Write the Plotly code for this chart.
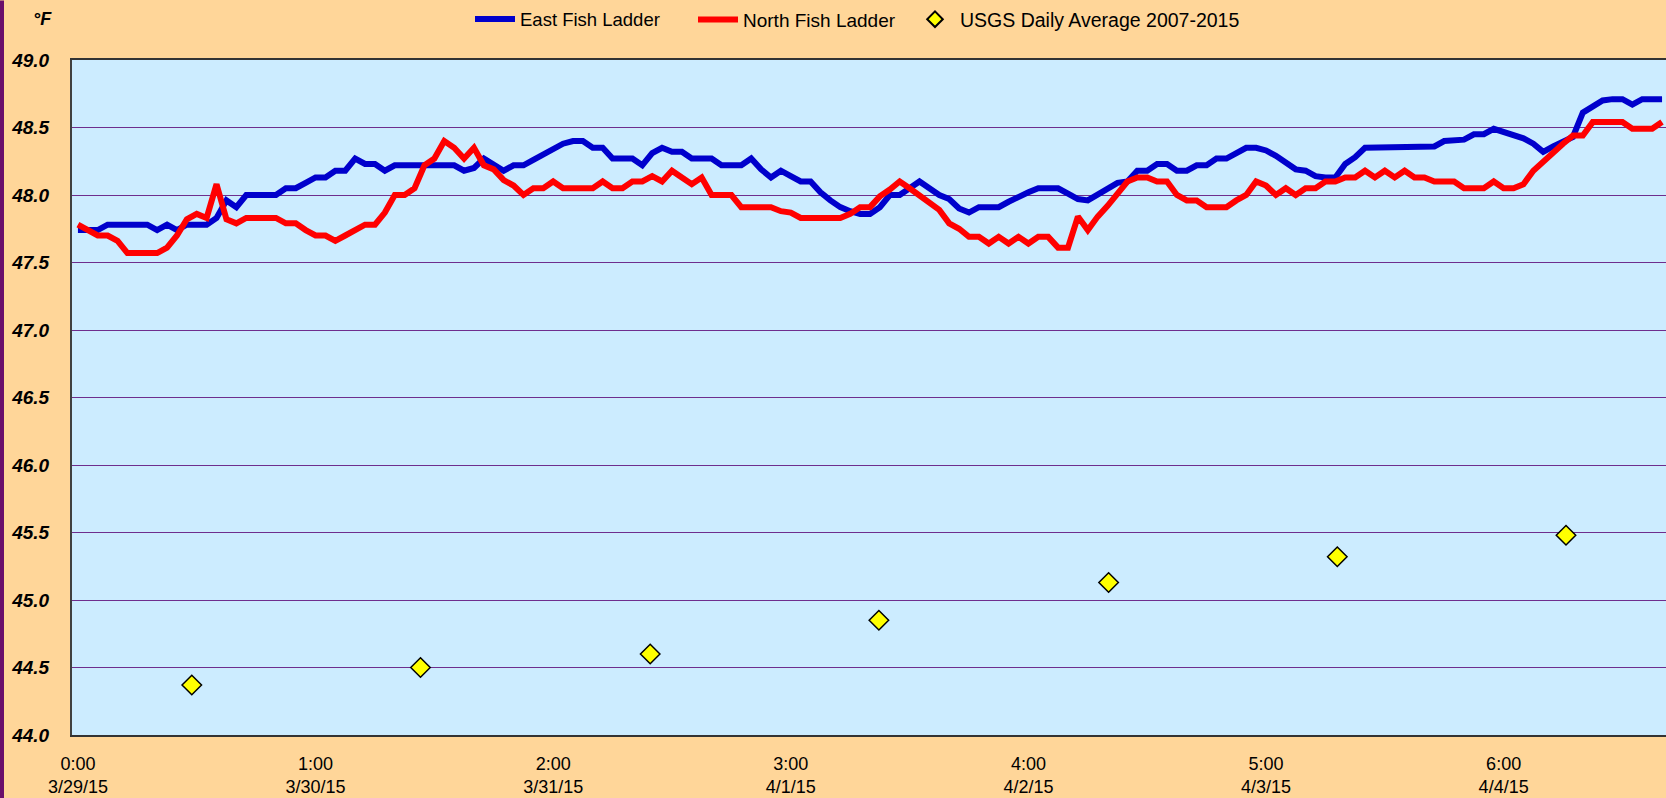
import plotly.graph_objects as go

hours = list(range(161))

east_fish_ladder = [
    47.74, 47.74, 47.74, 47.78, 47.78, 47.78, 47.78, 47.78, 47.74, 47.78,
    47.74, 47.78, 47.78, 47.78, 47.83, 47.96, 47.91, 48.00, 48.00, 48.00,
    48.00, 48.05, 48.05, 48.09, 48.13, 48.13, 48.18, 48.18, 48.27, 48.23,
    48.23, 48.18, 48.22, 48.22, 48.22, 48.22, 48.22, 48.22, 48.22, 48.18,
    48.20, 48.27, 48.22, 48.18, 48.22, 48.22, 48.26, 48.30, 48.33, 48.38,
    48.40, 48.40, 48.35, 48.35, 48.27, 48.27, 48.27, 48.22, 48.31, 48.35,
    48.32, 48.32, 48.27, 48.27, 48.27, 48.22, 48.22, 48.22, 48.27, 48.19,
    48.13, 48.18, 48.14, 48.10, 48.10, 48.02, 47.96, 47.91, 47.88, 47.86,
    47.86, 47.91, 48.00, 48.00, 48.05, 48.10, 48.05, 48.00, 47.97, 47.90,
    47.87, 47.91, 47.91, 47.91, 47.95, 47.99, 48.02, 48.05, 48.05, 48.05,
    48.01, 47.97, 47.96, 48.00, 48.04, 48.09, 48.10, 48.18, 48.18, 48.23,
    48.23, 48.18, 48.18, 48.22, 48.22, 48.27, 48.27, 48.31, 48.35, 48.35,
    48.33, 48.29, 48.24, 48.19, 48.18, 48.14, 48.13, 48.13, 48.23, 48.28,
    48.35, 48.35, 48.35, 48.35, 48.35, 48.35, 48.35, 48.36, 48.40, 48.40,
    48.41, 48.45, 48.45, 48.49, 48.47, 48.45, 48.42, 48.38, 48.32, 48.36,
    48.39, 48.43, 48.61, 48.66, 48.70, 48.71, 48.71, 48.67, 48.71, 48.71,
    48.71,
]

north_fish_ladder = [
    47.78, 47.74, 47.70, 47.70, 47.66, 47.57, 47.57, 47.57, 47.57, 47.61,
    47.70, 47.82, 47.86, 47.83, 48.08, 47.82, 47.79, 47.83, 47.83, 47.83,
    47.83, 47.79, 47.79, 47.74, 47.70, 47.70, 47.66, 47.70, 47.74, 47.78,
    47.78, 47.87, 48.00, 48.00, 48.05, 48.22, 48.27, 48.40, 48.35, 48.27,
    48.35, 48.22, 48.19, 48.11, 48.07, 48.00, 48.05, 48.05, 48.10, 48.05,
    48.05, 48.05, 48.05, 48.10, 48.05, 48.05, 48.10, 48.10, 48.14, 48.10,
    48.18, 48.13, 48.08, 48.13, 48.00, 48.00, 48.00, 47.91, 47.91, 47.91,
    47.91, 47.88, 47.87, 47.83, 47.83, 47.83, 47.83, 47.83, 47.86, 47.91,
    47.91, 47.99, 48.04, 48.10, 48.05, 48.00, 47.95, 47.89, 47.79, 47.75,
    47.69, 47.69, 47.64, 47.69, 47.64, 47.69, 47.64, 47.69, 47.69, 47.61,
    47.61, 47.84, 47.74, 47.84, 47.92, 48.01, 48.10, 48.13, 48.13, 48.10,
    48.10, 48.00, 47.96, 47.96, 47.91, 47.91, 47.91, 47.96, 48.00, 48.10,
    48.07, 48.00, 48.05, 48.00, 48.05, 48.05, 48.10, 48.10, 48.13, 48.13,
    48.18, 48.13, 48.18, 48.13, 48.18, 48.13, 48.13, 48.10, 48.10, 48.10,
    48.05, 48.05, 48.05, 48.10, 48.05, 48.05, 48.08, 48.18, 48.25, 48.32,
    48.38, 48.44, 48.44, 48.54, 48.54, 48.54, 48.54, 48.49, 48.49, 48.49,
    48.54,
]

usgs_hours = [11.5, 34.6, 57.8, 80.9, 104.1, 127.2, 150.3]
usgs_daily_avg = [44.37, 44.50, 44.60, 44.85, 45.13, 45.32, 45.48]

tick_hours = [0, 24, 48, 72, 96, 120, 144]
tick_labels = ["0:00<br>3/29/15", "1:00<br>3/30/15", "2:00<br>3/31/15", "3:00<br>4/1/15",
               "4:00<br>4/2/15", "5:00<br>4/3/15", "6:00<br>4/4/15"]

PAPER = "#FFD699"
PLOT = "#CCECFF"
FONT = "Liberation Sans, Arial, sans-serif"

fig = go.Figure()
fig.add_trace(go.Scatter(x=hours, y=east_fish_ladder, mode="lines", name="East Fish Ladder",
                         line=dict(color="#0000CC", width=6), legend="legend"))
fig.add_trace(go.Scatter(x=hours, y=north_fish_ladder, mode="lines", name="North Fish Ladder",
                         line=dict(color="#FF0000", width=6), legend="legend2"))
fig.add_trace(go.Scatter(x=usgs_hours, y=usgs_daily_avg, mode="markers",
                         name="USGS Daily Average 2007-2015", legend="legend3",
                         marker=dict(symbol="diamond", size=15, color="#FFFF00",
                                     line=dict(color="#000000", width=1.5))))

W, H = 1666, 798
ML, MR, MT, MB = 72, 0, 59.5, 63
pw = W - ML - MR
ph = H - MT - MB
leg_y = 1 + (MT - 19) / ph


def legend_at(px, size=18.5, constant=False):
    d = dict(orientation="h", x=(px - ML) / pw, xanchor="left", y=leg_y, yanchor="middle",
             bgcolor="rgba(0,0,0,0)", font=dict(size=size, family=FONT), itemwidth=40)
    if constant:
        d["itemsizing"] = "constant"
    return d


fig.update_layout(
    width=W, height=H,
    margin=dict(l=ML, r=MR, t=MT, b=MB, pad=0),
    paper_bgcolor=PAPER, plot_bgcolor=PLOT,
    font=dict(family=FONT, color="#000000"),
    showlegend=True,
    legend=legend_at(470),
    legend2=legend_at(693, size=19),
    legend3=legend_at(910, size=19.5, constant=True),
    xaxis=dict(range=[-0.6, 160.4], tickmode="array", tickvals=tick_hours, ticktext=tick_labels,
               showgrid=False, zeroline=False, showline=True, linecolor="#333333", linewidth=2,
               mirror=True, ticks="outside", ticklen=11, tickcolor=PAPER,
               tickfont=dict(size=18, family=FONT)),
    yaxis=dict(range=[44, 49], tickmode="linear", tick0=44, dtick=0.5, tickformat=".1f",
               showgrid=True, gridcolor="#6E2E8E", gridwidth=1.2, zeroline=False,
               showline=True, linecolor="#404040", linewidth=2,
               ticks="outside", ticklen=17, tickcolor=PAPER,
               tickfont=dict(size=19, family=FONT, weight="bold", style="italic")),
    annotations=[dict(text="°F", xref="paper", yref="paper",
                      x=(42 - ML) / pw, y=1 + (MT - 18) / ph,
                      xanchor="center", yanchor="middle", showarrow=False,
                      font=dict(size=18, family=FONT, weight="bold", style="italic"))],
    shapes=[dict(type="rect", xref="paper", yref="paper",
                 x0=(0 - ML) / pw, x1=(4 - ML) / pw, y0=-MB / ph,
                 y1=1 + MT / ph, fillcolor="#6B0F6B", line=dict(width=0),
                 layer="above")],
)

fig.write_html("out.html", config={"displayModeBar": False},
               post_script="document.body.style.margin='0';")
